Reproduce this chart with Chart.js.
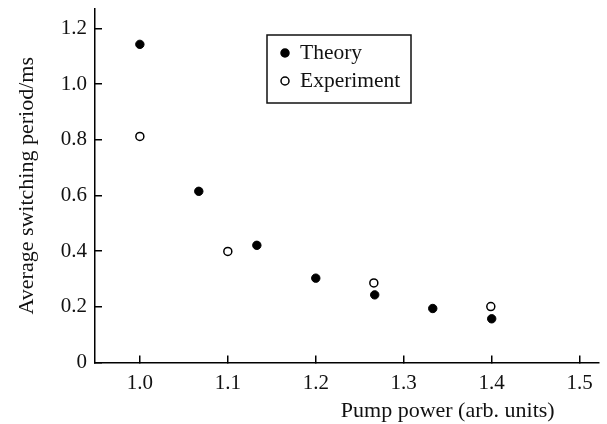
<!DOCTYPE html>
<html>
<head>
<meta charset="utf-8">
<script src="https://cdn.jsdelivr.net/npm/chart.js@4/dist/chart.umd.min.js"></script>
<style>
html, body { margin: 0; padding: 0; background: #fff; }
</style>
</head>
<body>
<canvas id="switchingChart" width="607" height="424"></canvas>
<script>
// values
var theoryPower = [1.0, 1.067, 1.133, 1.2, 1.267, 1.333, 1.4];
var theoryPeriod = [1.143, 0.615, 0.421, 0.303, 0.243, 0.194, 0.157];
var experimentPower = [1.0, 1.1, 1.266, 1.399];
var experimentPeriod = [0.812, 0.399, 0.286, 0.201];

var xTickValues = [1.0, 1.1, 1.2, 1.3, 1.4, 1.5];
var yTickValues = [0, 0.2, 0.4, 0.6, 0.8, 1.0, 1.2];
var legendLabels = ['Theory', 'Experiment'];
var xTitle = 'Pump power (arb. units)';
var yTitle = 'Average switching period/ms';

var ink = '#111';
var serif = "'Liberation Serif', 'DejaVu Serif', serif";

function toPoints(xs, ys) {
    return xs.map(function (x, i) { return { x: x, y: ys[i] }; });
}

// legend box sitting inside the plot, like the original
var boxLegend = {
    id: 'boxLegend',
    afterDraw: function (chart) {
        var ctx = chart.ctx;
        var area = chart.chartArea;
        var bx = area.left + 172, by = area.top + 26, bw = 144, bh = 68;
        ctx.save();
        ctx.strokeStyle = ink;
        ctx.lineWidth = 1.5;
        ctx.strokeRect(bx, by, bw, bh);
        ctx.font = '21.5px ' + serif;
        ctx.fillStyle = ink;
        ctx.textBaseline = 'middle';
        chart.data.datasets.forEach(function (ds, i) {
            var cy = by + 18 + i * 28;
            ctx.beginPath();
            ctx.arc(bx + 18, cy, 4, 0, Math.PI * 2);
            ctx.fillStyle = ds.backgroundColor;
            ctx.fill();
            ctx.lineWidth = 1.5;
            ctx.strokeStyle = ds.borderColor;
            ctx.stroke();
            ctx.fillStyle = ink;
            ctx.fillText(legendLabels[i], bx + 33, cy);
        });
        ctx.restore();
    }
};

// x title is set off to the right in the original
var xTitlePlugin = {
    id: 'xTitlePlugin',
    afterDraw: function (chart) {
        var ctx = chart.ctx;
        var xs = chart.scales.x;
        ctx.save();
        ctx.font = '22px ' + serif;
        ctx.fillStyle = ink;
        ctx.textAlign = 'center';
        ctx.textBaseline = 'middle';
        ctx.fillText(xTitle, xs.getPixelForValue(1.35), 411);
        ctx.restore();
    }
};

var ctx = document.getElementById('switchingChart').getContext('2d');

var chart = new Chart(ctx, {
    type: 'scatter',
    data: {
        datasets: [{
            label: legendLabels[0],
            data: toPoints(theoryPower, theoryPeriod),
            backgroundColor: '#000',
            borderColor: '#000',
            borderWidth: 1,
            pointRadius: 4.2
        }, {
            label: legendLabels[1],
            data: toPoints(experimentPower, experimentPeriod),
            backgroundColor: '#fff',
            borderColor: '#000',
            borderWidth: 1.5,
            pointRadius: 4
        }]
    },
    options: {
        responsive: false,
        animation: false,
        devicePixelRatio: 1,
        layout: { padding: { left: 0, top: 9, right: 8, bottom: 0 } },
        plugins: {
            legend: { display: false },
            tooltip: { enabled: false }
        },
        scales: {
            x: {
                type: 'linear',
                min: 0.949,
                max: 1.522,
                afterBuildTicks: function (scale) {
                    scale.ticks = xTickValues.map(function (v) { return { value: v }; });
                },
                afterFit: function (scale) {
                    scale.height = 61.5;
                    scale.paddingLeft = 0;
                    scale.paddingRight = 0;
                },
                ticks: {
                    color: ink,
                    font: { family: serif, size: 21 },
                    padding: 15,
                    maxRotation: 0,
                    callback: function (v) { return Number(v).toFixed(1); }
                },
                grid: {
                    drawOnChartArea: false,
                    color: '#000',
                    lineWidth: 1.5,
                    tickLength: -7
                },
                border: { color: '#000', width: 1.5 },
                title: { display: false }
            },
            y: {
                type: 'linear',
                min: 0,
                max: 1.27,
                afterBuildTicks: function (scale) {
                    scale.ticks = yTickValues.map(function (v) { return { value: v }; });
                },
                afterFit: function (scale) {
                    scale.width = 95;
                    scale.paddingTop = 0;
                    scale.paddingBottom = 0;
                },
                ticks: {
                    color: ink,
                    font: { family: serif, size: 21 },
                    padding: 15,
                    callback: function (v) { return v === 0 ? '0' : Number(v).toFixed(1); }
                },
                grid: {
                    drawOnChartArea: false,
                    color: '#000',
                    lineWidth: 1.5,
                    tickLength: -7
                },
                border: { color: '#000', width: 1.5 },
                title: {
                    display: true,
                    text: yTitle,
                    color: ink,
                    font: { family: serif, size: 22 },
                    padding: { top: 14, bottom: 0 }
                }
            }
        }
    },
    plugins: [boxLegend, xTitlePlugin]
});
</script>
</body>
</html>
